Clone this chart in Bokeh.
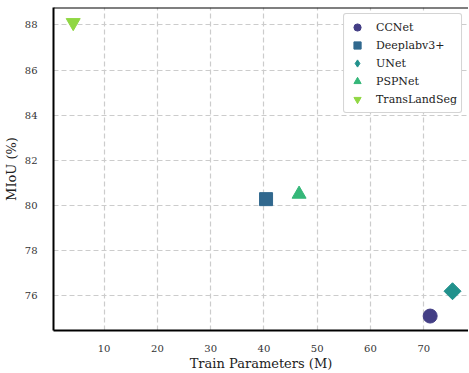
import math
from bokeh.plotting import figure
from bokeh.models import ColumnDataSource, Span, Legend, LegendItem
from bokeh.embed import file_html
from bokeh.resources import INLINE

models = ["CCNet", "Deeplabv3+", "UNet", "PSPNet", "TransLandSeg"]
params = [71.2, 40.4, 75.4, 46.6, 4.2]
miou = [75.1, 80.28, 76.2, 80.5, 88.1]
colors = ["#433e85", "#31688e", "#21918c", "#35b779", "#90d743"]
markers = ["circle", "square", "square", "triangle", "inverted_triangle"]
legend_markers = ["circle", "square", "diamond", "triangle", "inverted_triangle"]
angles = [0, 0, math.pi / 4, 0, 0]
sizes = [14, 13, 12, 14, 14]
y_ticks = [76, 78, 80, 82, 84, 86, 88]
x_ticks = [10, 20, 30, 40, 50, 60, 70]

FONT = "DejaVu Serif"
Y_TOP = 88.77

p = figure(frame_width=415, frame_height=323, output_backend="svg", toolbar_location=None,
           x_range=(0.5, 78.4), y_range=(74.46, Y_TOP),
           min_border_left=0, min_border_right=0, min_border_top=7, min_border_bottom=0)
p.outline_line_color = None
p.background_fill_color = "white"

for ax in (p.xaxis, p.yaxis):
    ax.axis_line_color = "black"
    ax.axis_line_width = 2
    ax.major_tick_line_color = None
    ax.minor_tick_line_color = None
    ax.major_label_text_font = FONT
    ax.major_label_text_font_size = "10px"
    ax.major_label_text_color = "#333333"
    ax.axis_label_text_font = FONT
    ax.axis_label_text_font_size = "13px"
    ax.axis_label_text_font_style = "normal"
    ax.axis_label_text_color = "#222222"

p.xaxis.ticker = x_ticks
p.yaxis.ticker = y_ticks
p.xaxis.axis_label = "Train Parameters (M)"
p.yaxis.axis_label = "MIoU (%)"
p.xaxis.major_label_standoff = 8
p.yaxis.major_label_standoff = 10
p.xaxis.axis_label_standoff = 1
p.yaxis.axis_label_standoff = 3

for g in (p.xgrid, p.ygrid):
    g.grid_line_color = "#cccccc"
    g.grid_line_dash = "5 3"
    g.grid_line_width = 1.2

p.add_layout(Span(location=Y_TOP, dimension="width", line_color="black", line_width=2))

items = []
for i in range(len(models)):
    src = ColumnDataSource(dict(x=[params[i]], y=[miou[i]]))
    r = p.scatter("x", "y", source=src, marker=markers[i], size=sizes[i],
                  angle=angles[i], fill_color=colors[i], line_color=colors[i])
    if legend_markers[i] != markers[i]:
        # zero-size twin so the legend shows the diamond shape
        r = p.scatter("x", "y", source=src, marker=legend_markers[i], size=0,
                      fill_color=colors[i], line_color=colors[i])
    items.append(LegendItem(label=models[i], renderers=[r]))

legend = Legend(items=items, location="top_right")
legend.label_text_font = FONT
legend.label_text_font_size = "11px"
legend.label_text_color = "#222222"
legend.label_height = 18
legend.glyph_height = 18
legend.glyph_width = 18
legend.spacing = -2
legend.padding = 4
legend.margin = 6
legend.label_standoff = 10
legend.border_line_color = "#aaaaaa"
legend.border_line_width = 1
legend.border_radius = 3
legend.background_fill_alpha = 1.0
p.add_layout(legend)

open("out.html", "w").write(file_html(p, INLINE))
